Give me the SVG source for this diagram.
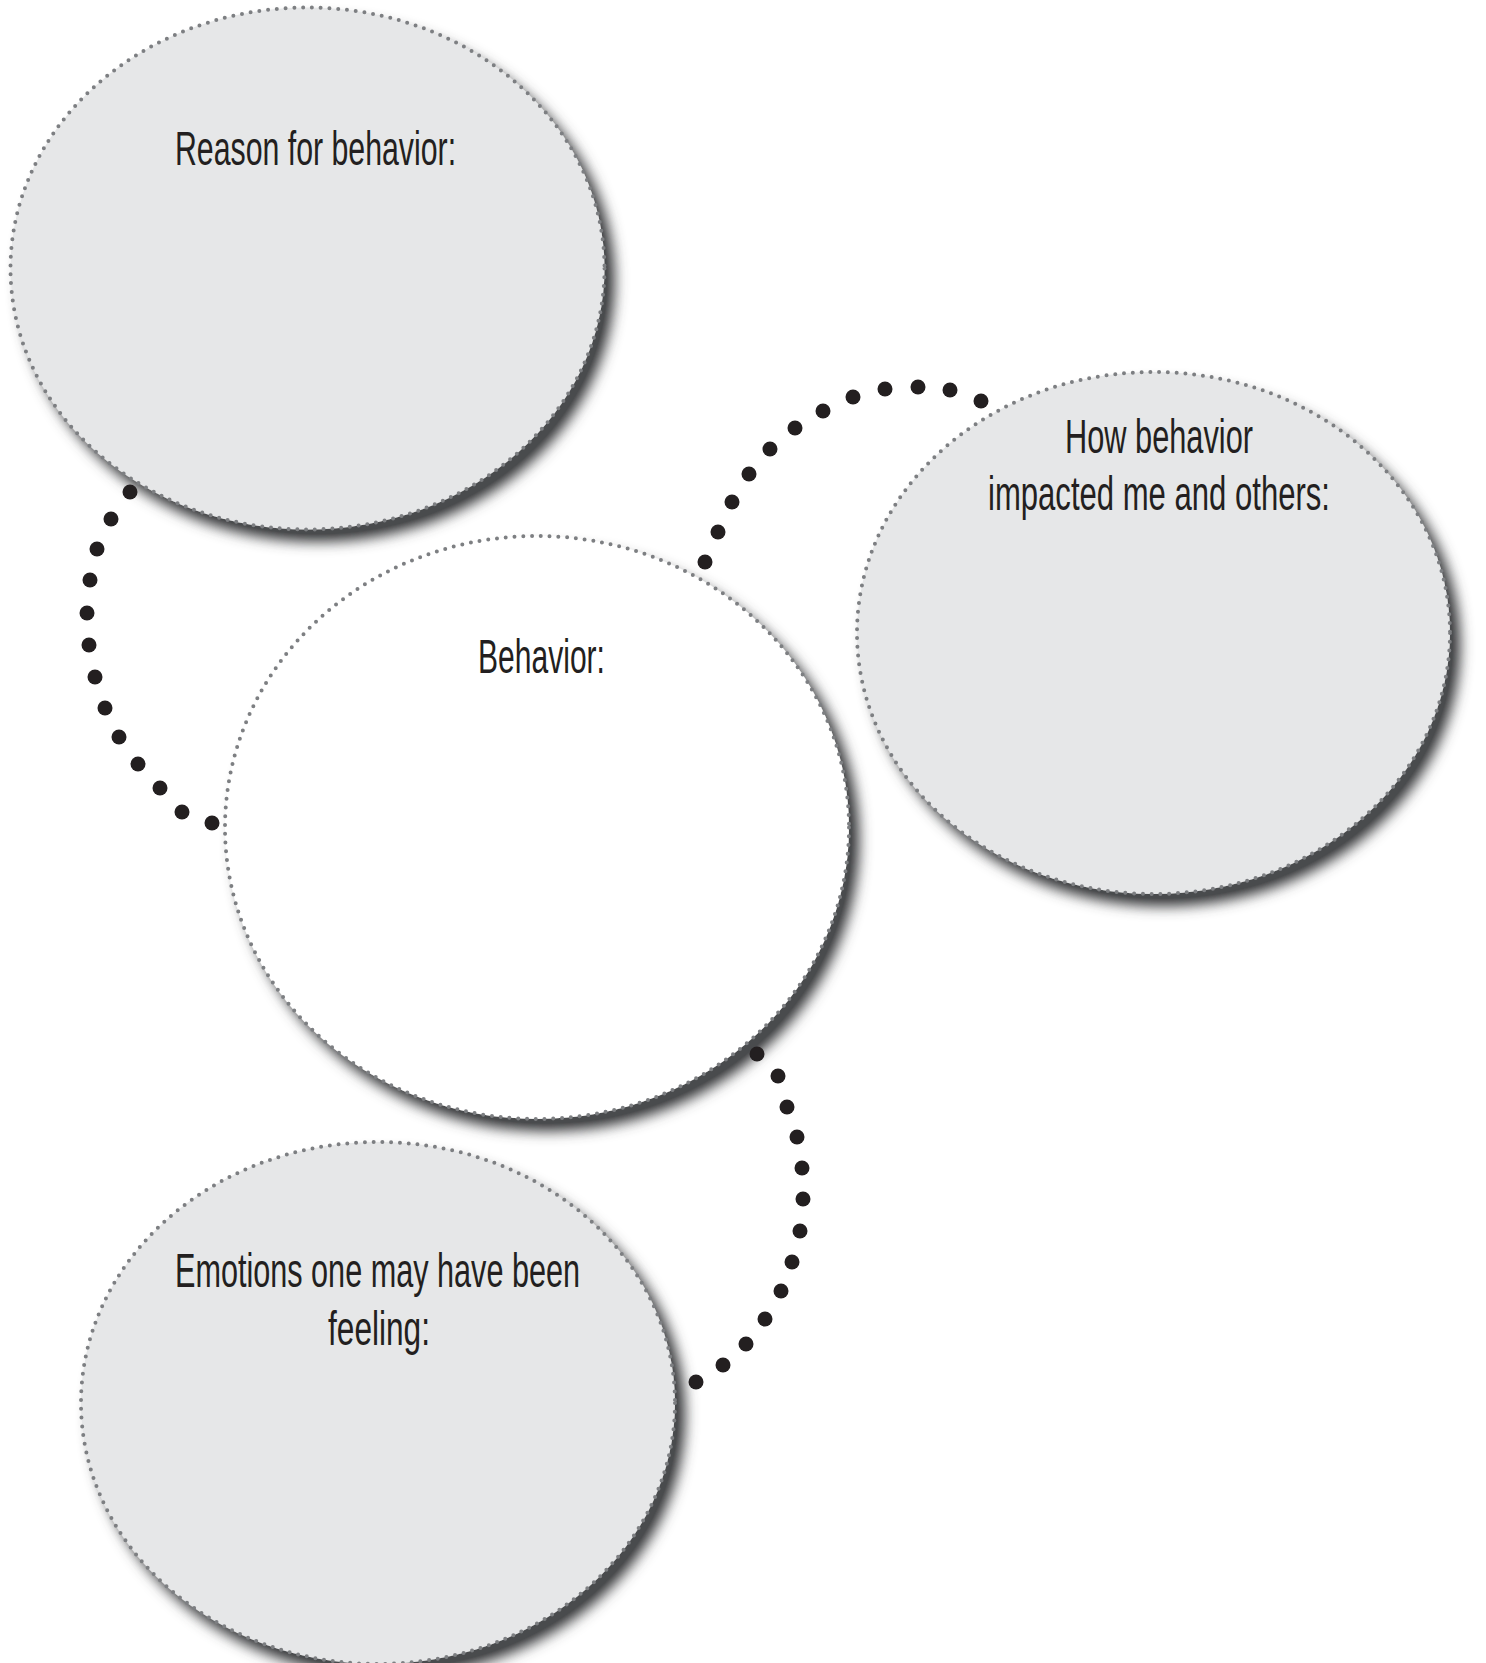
<svg xmlns="http://www.w3.org/2000/svg" width="1486" height="1663" viewBox="0 0 1486 1663">
<defs>
<filter id="shadow" x="-10%" y="-10%" width="125%" height="125%">
<feGaussianBlur in="SourceAlpha" stdDeviation="7" result="b"/>
<feOffset in="b" dx="10" dy="12" result="o"/>
<feComponentTransfer in="o" result="o2"><feFuncA type="linear" slope="1.15"/></feComponentTransfer>
<feFlood flood-color="#4a4b4d" flood-opacity="1"/>
<feComposite in2="o2" operator="in" result="s"/>
<feMerge><feMergeNode in="s"/><feMergeNode in="SourceGraphic"/></feMerge>
</filter>
</defs>
<style>
.fill{fill:#e6e7e8;filter:url(#shadow)}
.white{fill:#ffffff;filter:url(#shadow)}
.rim{fill:none;stroke:#7d7f82;stroke-width:4;stroke-dasharray:0 8.8;stroke-linecap:round}
.lbl{font-family:"Liberation Sans","DejaVu Sans",sans-serif;font-size:48px;fill:#231f20;text-anchor:middle}
.dot{fill:#231f20}
</style>
<rect width="1486" height="1663" fill="#ffffff"/>
<g id="node-reason">
<ellipse class="fill" cx="307.5" cy="268.5" rx="297" ry="261"/>
<ellipse class="rim" cx="307.5" cy="268.5" rx="297" ry="261"/>
<text class="lbl" transform="translate(315.5 165) scale(0.631 1)" x="0" y="0">Reason for behavior:</text>
</g>
<g id="node-how">
<ellipse class="fill" cx="1153.5" cy="633" rx="296.5" ry="261"/>
<ellipse class="rim" cx="1153.5" cy="633" rx="296.5" ry="261"/>
<text class="lbl" transform="translate(1159 453) scale(0.641 1)" x="0" y="0">How behavior</text>
<text class="lbl" transform="translate(1159 510) scale(0.6475 1)" x="0" y="0">impacted me and others:</text>
</g>
<g id="node-emotions">
<ellipse class="fill" cx="378" cy="1403" rx="297" ry="261"/>
<ellipse class="rim" cx="378" cy="1403" rx="297" ry="261"/>
<text class="lbl" transform="translate(377.5 1287) scale(0.638 1)" x="0" y="0">Emotions one may have been</text>
<text class="lbl" transform="translate(379 1345) scale(0.659 1)" x="0" y="0">feeling:</text>
</g>
<g id="node-behavior">
<ellipse class="white" cx="537" cy="827.5" rx="312" ry="291.5"/>
<ellipse class="rim" cx="537" cy="827.5" rx="312" ry="291.5"/>
<text class="lbl" transform="translate(541.5 673) scale(0.626 1)" x="0" y="0">Behavior:</text>
</g>
<g id="connectors">
<g class="dot">
<circle cx="130" cy="492" r="7.5"/><circle cx="111" cy="519" r="7.5"/><circle cx="97" cy="549" r="7.5"/><circle cx="90" cy="580" r="7.5"/><circle cx="87" cy="613" r="7.5"/><circle cx="89" cy="645" r="7.5"/><circle cx="95" cy="677" r="7.5"/><circle cx="105" cy="708" r="7.5"/><circle cx="119" cy="737" r="7.5"/><circle cx="138" cy="764" r="7.5"/><circle cx="160" cy="788" r="7.5"/><circle cx="182" cy="812" r="7.5"/><circle cx="212" cy="823" r="7.5"/>
</g>
<g class="dot">
<circle cx="705" cy="562" r="7.5"/><circle cx="718" cy="532" r="7.5"/><circle cx="732" cy="502" r="7.5"/><circle cx="749" cy="474" r="7.5"/><circle cx="770" cy="449" r="7.5"/><circle cx="795" cy="428" r="7.5"/><circle cx="823" cy="411" r="7.5"/><circle cx="853" cy="397" r="7.5"/><circle cx="885" cy="389" r="7.5"/><circle cx="918" cy="387" r="7.5"/><circle cx="950" cy="390" r="7.5"/><circle cx="981" cy="401" r="7.5"/>
</g>
<g class="dot">
<circle cx="757" cy="1054" r="7.5"/><circle cx="778" cy="1076" r="7.5"/><circle cx="787" cy="1107" r="7.5"/><circle cx="797" cy="1137" r="7.5"/><circle cx="802" cy="1168" r="7.5"/><circle cx="803" cy="1199" r="7.5"/><circle cx="800" cy="1231" r="7.5"/><circle cx="792" cy="1262" r="7.5"/><circle cx="781" cy="1291" r="7.5"/><circle cx="765" cy="1319" r="7.5"/><circle cx="746" cy="1344" r="7.5"/><circle cx="723" cy="1365" r="7.5"/><circle cx="696" cy="1382" r="7.5"/>
</g>
</g>
</svg>
